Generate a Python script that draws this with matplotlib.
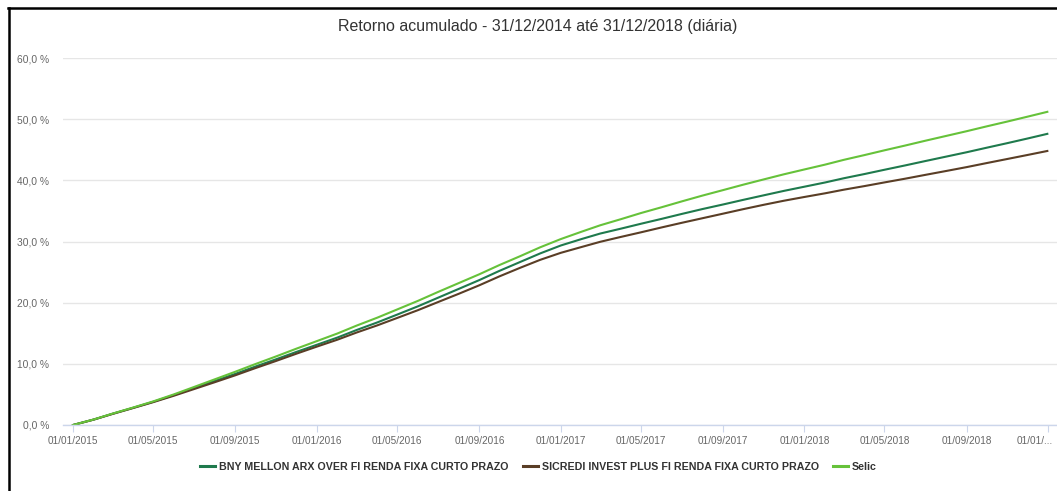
import matplotlib
matplotlib.use("Agg")
import matplotlib.pyplot as plt
import matplotlib.dates as mdates
import matplotlib.transforms as mtransforms
from matplotlib.lines import Line2D
import datetime as dt

# ---- data (monthly readings, % cumulative return) ----
dates = [dt.date(2015 + (m // 12), m % 12 + 1, 1) for m in range(48)] + [dt.date(2018, 12, 31)]

bny = [0.00, 0.89, 1.83, 2.81, 3.79, 4.88, 6.01, 7.18, 8.35, 9.54, 10.73, 11.92,
       13.10, 14.29, 15.53, 16.77, 18.06, 19.41, 20.81, 22.25, 23.70, 25.20, 26.65, 28.05,
       29.35, 30.40, 31.30, 32.10, 32.90, 33.70, 34.50, 35.30, 36.05, 36.80, 37.55, 38.27,
       38.96, 39.65, 40.34, 41.03, 41.73, 42.44, 43.15, 43.87, 44.59, 45.33, 46.08, 46.83,
       47.60]
sicredi = [0.00, 0.88, 1.80, 2.77, 3.73, 4.78, 5.86, 6.98, 8.12, 9.29, 10.46, 11.63,
           12.80, 13.94, 15.12, 16.29, 17.51, 18.78, 20.10, 21.45, 22.85, 24.30, 25.70, 27.00,
           28.15, 29.10, 29.95, 30.75, 31.50, 32.30, 33.05, 33.80, 34.55, 35.28, 36.00, 36.66,
           37.28, 37.88, 38.47, 39.06, 39.66, 40.27, 40.89, 41.52, 42.16, 42.82, 43.49, 44.14,
           44.80]
selic = [0.00, 0.90, 1.85, 2.85, 3.85, 5.00, 6.20, 7.45, 8.70, 9.95, 11.20, 12.45,
         13.70, 14.95, 16.25, 17.55, 18.90, 20.30, 21.75, 23.20, 24.65, 26.15, 27.60, 29.05,
         30.40, 31.60, 32.65, 33.65, 34.65, 35.60, 36.55, 37.50, 38.40, 39.28, 40.15, 40.98,
         41.78, 42.57, 43.35, 44.13, 44.91, 45.69, 46.47, 47.25, 48.03, 48.82, 49.61, 50.40,
         51.20]

series_names = ["BNY MELLON ARX OVER FI RENDA FIXA CURTO PRAZO",
                "SICREDI INVEST PLUS FI RENDA FIXA CURTO PRAZO",
                "Selic"]
series_colors = ["#1f7a4d", "#5a3e26", "#66c23a"]

tick_dates = [dt.date(2015 + (m // 12), m % 12 + 1, 1) for m in range(0, 49, 4)]
tick_labels = [d.strftime("%d/%m/%Y") for d in tick_dates[:-1]] + ["01/01/..."]
y_ticks = [0, 10, 20, 30, 40, 50, 60]
y_labels = ["0,0 %", "10,0 %", "20,0 %", "30,0 %", "40,0 %", "50,0 %", "60,0 %"]

title = "Retorno acumulado - 31/12/2014 até 31/12/2018 (diária)"

# ---- figure ----
plt.rcParams['font.family'] = ['Liberation Sans', 'DejaVu Sans']
W, H = 1057, 491
fig = plt.figure(figsize=(W / 100, H / 100), dpi=100)
fig.patch.set_facecolor("white")

ax_l, ax_r, ax_t, ax_b = 63, 1057, 58, 425
ax = fig.add_axes([ax_l / W, 1 - ax_b / H, (ax_r - ax_l) / W, (ax_b - ax_t) / H])

for vals, name, col in zip([bny, sicredi, selic], series_names, series_colors):
    ax.plot(dates, vals, color=col, lw=1.5, label=name, solid_joinstyle="round")

x0 = mdates.date2num(dt.date(2015, 1, 1))
x1 = mdates.date2num(dt.date(2019, 1, 1))
px_per_day = (1048 - 73) / (x1 - x0)
ax.set_xlim(x0 - (73 - ax_l) / px_per_day, x0 + (ax_r - 73) / px_per_day)
ax.set_ylim(0, 60)

ax.set_yticks(y_ticks)
ax.set_yticklabels(y_labels)
ax.set_xticks([mdates.date2num(d) for d in tick_dates])
ax.set_xticklabels(tick_labels)

ax.grid(axis="y", color="#e6e6e6", lw=1)
ax.set_axisbelow(True)
for s in ["top", "right", "left"]:
    ax.spines[s].set_visible(False)
ax.spines["bottom"].set_color("#ccd6eb")
ax.spines["bottom"].set_linewidth(1)

ax.tick_params(axis="y", length=0, pad=10, labelsize=7.4, labelcolor="#666666")
ax.tick_params(axis="x", length=5, width=0.8, color="#ccd6eb", pad=3,
               labelsize=7.2, labelcolor="#666666")

# shift the last (truncated) x label left so it stays inside
last = ax.get_xticklabels()[-1]
last.set_transform(last.get_transform() +
                   mtransforms.ScaledTranslation(-13 / 100, 0, fig.dpi_scale_trans))

fig.text(538 / W, 1 - 26 / H, title, ha="center", va="center",
         fontsize=11.5, color="#333333")

leg = fig.legend(loc="center", bbox_to_anchor=(538.5 / W, 1 - 467 / H), ncol=3,
                 frameon=False, handlelength=1.4, handletextpad=0.37, columnspacing=1.3,
                 prop={"weight": "bold", "size": 7.7})
for t in leg.get_texts():
    t.set_color("#333333")
for h in leg.get_lines():
    h.set_linewidth(2.2)

# black frame at top and left
fig.add_artist(Line2D([8 / W, 1.0], [1 - 8 / H, 1 - 8 / H], color="black", lw=1.8,
                      transform=fig.transFigure))
fig.add_artist(Line2D([9 / W, 9 / W], [0, 1 - 8 / H], color="black", lw=1.8,
                      transform=fig.transFigure))

fig.savefig("out.png", dpi=100, facecolor="white")
